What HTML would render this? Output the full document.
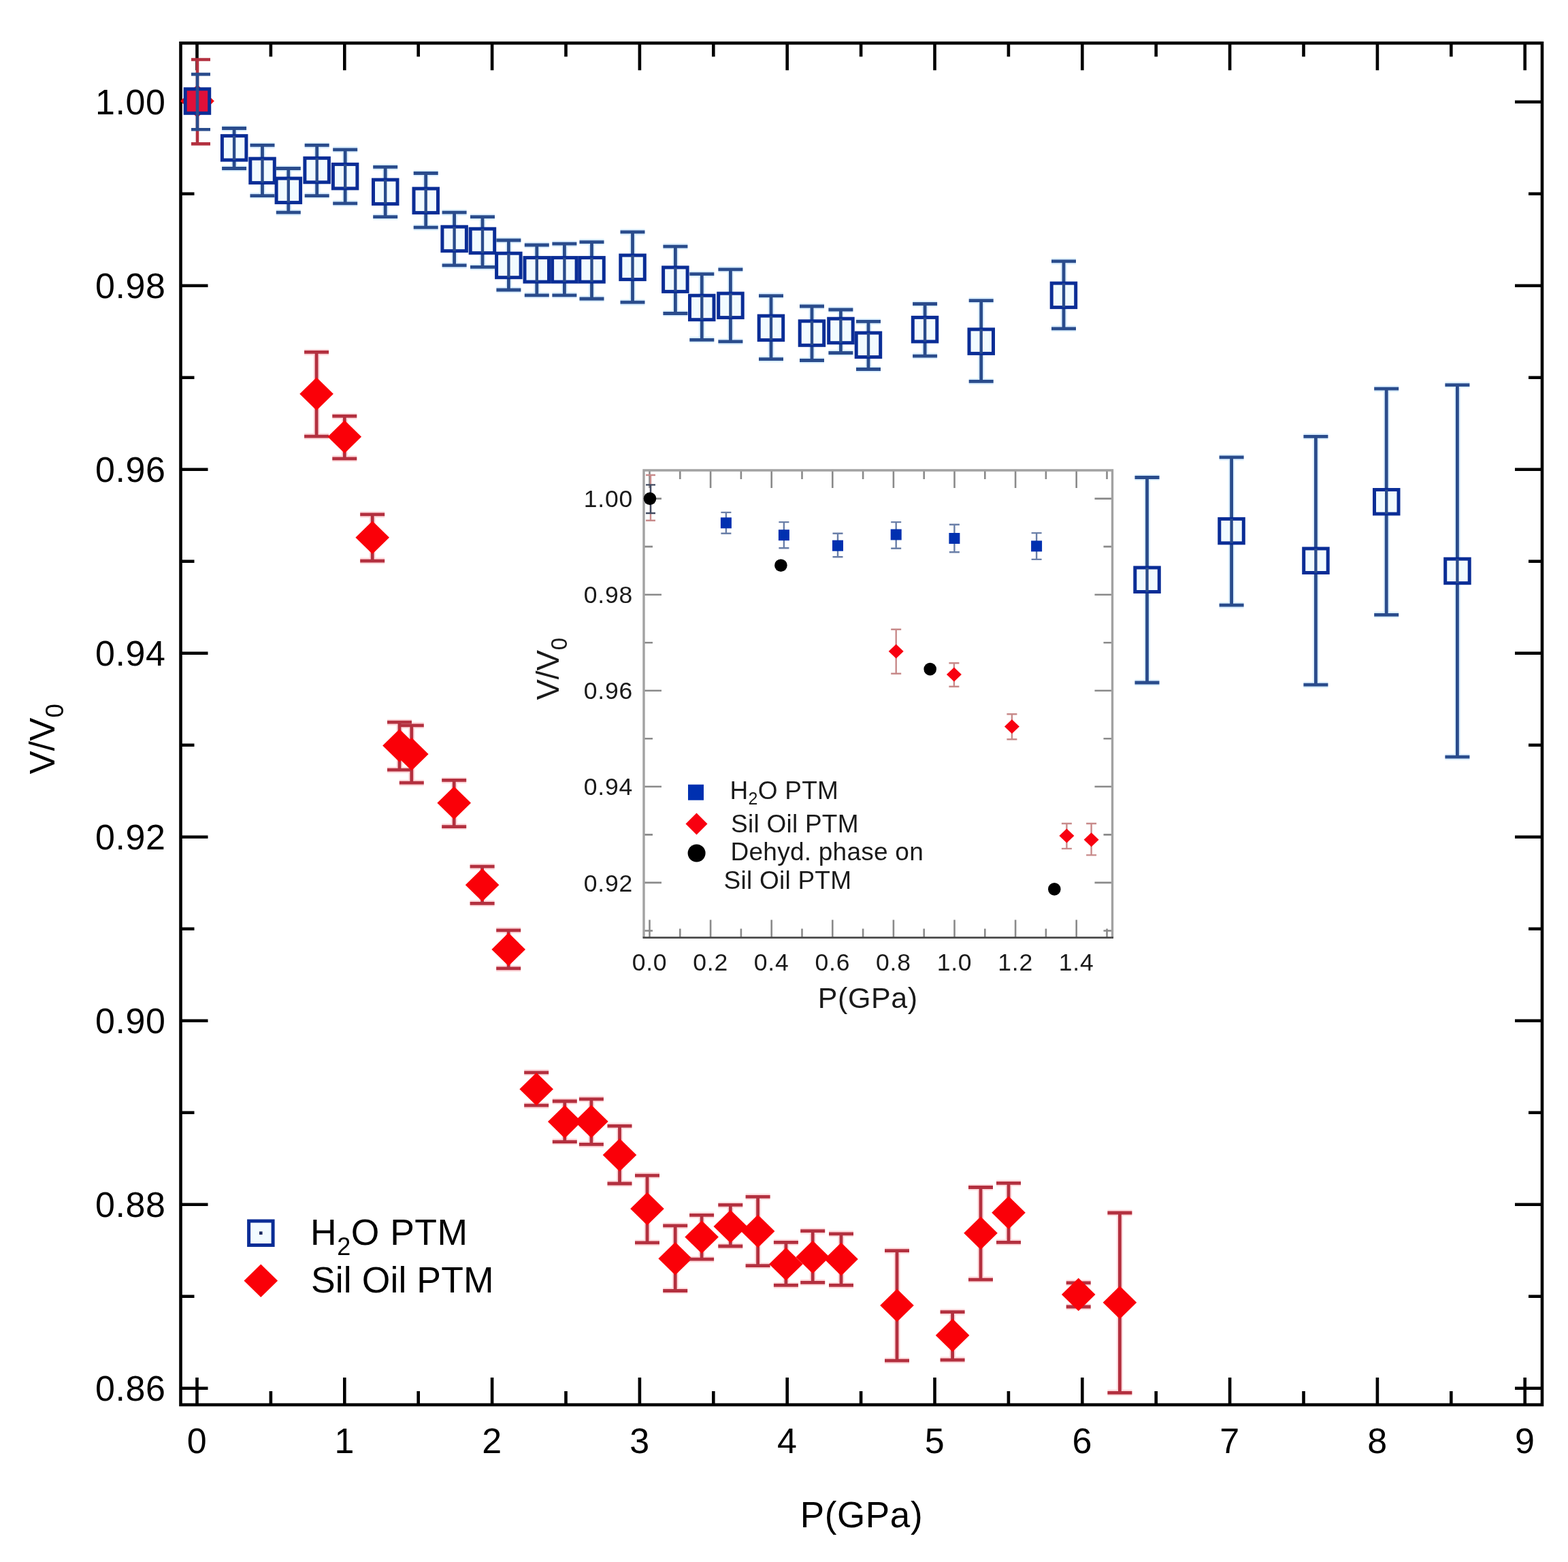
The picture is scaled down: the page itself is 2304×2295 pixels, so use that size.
<!DOCTYPE html>
<html><head><meta charset="utf-8"><title>V/V0 vs P</title><style>html,body{margin:0;padding:0;background:#fff;}svg{display:block;filter:blur(0.45px);}</style></head><body>
<svg width="2304" height="2295" viewBox="0 0 2304 2295">
<rect width="2304" height="2295" fill="#fff"/>
<path d="M289.5 2064V2024M289.5 63.3V103.3M506.3 2064V2024M506.3 63.3V103.3M723.1 2064V2024M723.1 63.3V103.3M939.9 2064V2024M939.9 63.3V103.3M1156.7 2064V2024M1156.7 63.3V103.3M1373.5 2064V2024M1373.5 63.3V103.3M1590.3 2064V2024M1590.3 63.3V103.3M1807.1 2064V2024M1807.1 63.3V103.3M2023.9 2064V2024M2023.9 63.3V103.3M2240.7 2064V2024M2240.7 63.3V103.3M397.9 2064V2044M397.9 63.3V83.3M614.7 2064V2044M614.7 63.3V83.3M831.5 2064V2044M831.5 63.3V83.3M1048.3 2064V2044M1048.3 63.3V83.3M1265.1 2064V2044M1265.1 63.3V83.3M1481.9 2064V2044M1481.9 63.3V83.3M1698.7 2064V2044M1698.7 63.3V83.3M1915.5 2064V2044M1915.5 63.3V83.3M2132.3 2064V2044M2132.3 63.3V83.3M265.5 149.7H305.5M2266 149.7H2226M265.5 284.7H285.5M2266 284.7H2246M265.5 419.7H305.5M2266 419.7H2226M265.5 554.7H285.5M2266 554.7H2246M265.5 689.7H305.5M2266 689.7H2226M265.5 824.7H285.5M2266 824.7H2246M265.5 959.7H305.5M2266 959.7H2226M265.5 1094.7H285.5M2266 1094.7H2246M265.5 1229.7H305.5M2266 1229.7H2226M265.5 1364.7H285.5M2266 1364.7H2246M265.5 1499.7H305.5M2266 1499.7H2226M265.5 1634.7H285.5M2266 1634.7H2246M265.5 1769.7H305.5M2266 1769.7H2226M265.5 1904.7H285.5M2266 1904.7H2246M265.5 2039.7H305.5M2266 2039.7H2226" stroke="#000" stroke-width="4.6" fill="none"/>
<rect x="265.5" y="63.3" width="2000.5" height="2000.7" stroke="#000" stroke-width="4.6" fill="none"/>
<g font-family="'Liberation Sans', Arial, sans-serif" font-size="52" fill="#000" letter-spacing="0.6">
<text x="243.5" y="168" text-anchor="end">1.00</text>
<text x="243.5" y="438" text-anchor="end">0.98</text>
<text x="243.5" y="708" text-anchor="end">0.96</text>
<text x="243.5" y="978" text-anchor="end">0.94</text>
<text x="243.5" y="1248" text-anchor="end">0.92</text>
<text x="243.5" y="1518" text-anchor="end">0.90</text>
<text x="243.5" y="1788" text-anchor="end">0.88</text>
<text x="243.5" y="2058" text-anchor="end">0.86</text>
<text x="289.5" y="2135" text-anchor="middle">0</text>
<text x="506.3" y="2135" text-anchor="middle">1</text>
<text x="723.1" y="2135" text-anchor="middle">2</text>
<text x="939.9" y="2135" text-anchor="middle">3</text>
<text x="1156.7" y="2135" text-anchor="middle">4</text>
<text x="1373.5" y="2135" text-anchor="middle">5</text>
<text x="1590.3" y="2135" text-anchor="middle">6</text>
<text x="1807.1" y="2135" text-anchor="middle">7</text>
<text x="2023.9" y="2135" text-anchor="middle">8</text>
<text x="2240.7" y="2135" text-anchor="middle">9</text>
</g>
<text x="1266" y="2244" text-anchor="middle" font-family="'Liberation Sans', Arial, sans-serif" font-size="53" letter-spacing="0.6">P(GPa)</text>
<text transform="translate(79.5 1137.5) rotate(-90)" font-family="'Liberation Sans', Arial, sans-serif" font-size="51.5">V/V<tspan font-size="37" dy="13.5">0</tspan></text>
<path d="M954.5 1377.6V1351.6M954.5 691V717M1044.1 1377.6V1351.6M1044.1 691V717M1133.7 1377.6V1351.6M1133.7 691V717M1223.3 1377.6V1351.6M1223.3 691V717M1312.9 1377.6V1351.6M1312.9 691V717M1402.5 1377.6V1351.6M1402.5 691V717M1492.1 1377.6V1351.6M1492.1 691V717M1581.7 1377.6V1351.6M1581.7 691V717M999.3 1377.6V1364.6M999.3 691V704M1088.9 1377.6V1364.6M1088.9 691V704M1178.5 1377.6V1364.6M1178.5 691V704M1268.1 1377.6V1364.6M1268.1 691V704M1357.7 1377.6V1364.6M1357.7 691V704M1447.3 1377.6V1364.6M1447.3 691V704M1536.9 1377.6V1364.6M1536.9 691V704M1626.5 1377.6V1364.6M1626.5 691V704M946 732.6H972M1634.5 732.6H1608.5M946 803.1H959M1634.5 803.1H1621.5M946 873.7H972M1634.5 873.7H1608.5M946 944.2H959M1634.5 944.2H1621.5M946 1014.8H972M1634.5 1014.8H1608.5M946 1085.3H959M1634.5 1085.3H1621.5M946 1155.8H972M1634.5 1155.8H1608.5M946 1226.4H959M1634.5 1226.4H1621.5M946 1296.9H972M1634.5 1296.9H1608.5M946 1367.5H959M1634.5 1367.5H1621.5" stroke="#8a8a8a" stroke-width="2.6" fill="none"/>
<path d="M946 1377.6V691H1634.5V1377.6" stroke="#a2a2a2" stroke-width="3.4" fill="none"/>
<path d="M944.5 1377.6H1636" stroke="#4a4a4a" stroke-width="2.6" fill="none"/>
<g font-family="'Liberation Sans', Arial, sans-serif" font-size="35.5" fill="#1a1a1a" letter-spacing="0.8">
<text x="930" y="745.2" text-anchor="end">1.00</text>
<text x="930" y="886.3" text-anchor="end">0.98</text>
<text x="930" y="1027.4" text-anchor="end">0.96</text>
<text x="930" y="1168.4" text-anchor="end">0.94</text>
<text x="930" y="1309.5" text-anchor="end">0.92</text>
<text x="954.5" y="1425.5" text-anchor="middle">0.0</text>
<text x="1044.1" y="1425.5" text-anchor="middle">0.2</text>
<text x="1133.7" y="1425.5" text-anchor="middle">0.4</text>
<text x="1223.3" y="1425.5" text-anchor="middle">0.6</text>
<text x="1312.9" y="1425.5" text-anchor="middle">0.8</text>
<text x="1402.5" y="1425.5" text-anchor="middle">1.0</text>
<text x="1492.1" y="1425.5" text-anchor="middle">1.2</text>
<text x="1581.7" y="1425.5" text-anchor="middle">1.4</text>
</g>
<text x="1275.3" y="1480.5" text-anchor="middle" font-family="'Liberation Sans', Arial, sans-serif" font-size="43" fill="#1a1a1a" letter-spacing="0.6">P(GPa)</text>
<text transform="translate(820.5 1028.5) rotate(-90)" font-family="'Liberation Sans', Arial, sans-serif" font-size="45.5" fill="#1a1a1a">V/V<tspan font-size="33" dy="12">0</tspan></text>
<path d="M956 698V764.8M949 698H963M949 764.8H963" stroke="#c88a8a" stroke-width="2.4" fill="none"/>
<path d="M956 712.4V754M949 712.4H963M949 754H963" stroke="#404a60" stroke-width="2.4" fill="none"/>
<path d="M1066.9 752.9V783.8M1059.4 752.9H1074.4M1059.4 783.8H1074.4" stroke="#6a7fa8" stroke-width="2.4" fill="none"/>
<rect x="1058.9" y="760.3" width="16" height="16" fill="#0030b0"/>
<path d="M1151.9 767.1V805.2M1144.4 767.1H1159.4M1144.4 805.2H1159.4" stroke="#6a7fa8" stroke-width="2.4" fill="none"/>
<rect x="1143.9" y="778.2" width="16" height="16" fill="#0030b0"/>
<path d="M1231 783.8V818.3M1223.5 783.8H1238.5M1223.5 818.3H1238.5" stroke="#6a7fa8" stroke-width="2.4" fill="none"/>
<rect x="1223" y="793.7" width="16" height="16" fill="#0030b0"/>
<path d="M1316.7 767.1V805.7M1309.2 767.1H1324.2M1309.2 805.7H1324.2" stroke="#6a7fa8" stroke-width="2.4" fill="none"/>
<rect x="1308.7" y="777.5" width="16" height="16" fill="#0030b0"/>
<path d="M1402.4 770.7V811.2M1394.9 770.7H1409.9M1394.9 811.2H1409.9" stroke="#6a7fa8" stroke-width="2.4" fill="none"/>
<rect x="1394.4" y="783" width="16" height="16" fill="#0030b0"/>
<path d="M1523.1 783.1V821.9M1515.6 783.1H1530.6M1515.6 821.9H1530.6" stroke="#6a7fa8" stroke-width="2.4" fill="none"/>
<rect x="1515.1" y="794.4" width="16" height="16" fill="#0030b0"/>
<path d="M1316.7 924.8V989.8M1309.2 924.8H1324.2M1309.2 989.8H1324.2" stroke="#c88a8a" stroke-width="2.4" fill="none"/>
<path d="M1305.7 957.1L1316.7 946.6L1327.7 957.1L1316.7 967.6Z" fill="#f80010"/>
<path d="M1401.9 974.3V1008.8M1394.4 974.3H1409.4M1394.4 1008.8H1409.4" stroke="#c88a8a" stroke-width="2.4" fill="none"/>
<path d="M1390.9 991L1401.9 980.5L1412.9 991L1401.9 1001.5Z" fill="#f80010"/>
<path d="M1486.9 1049.3V1086.2M1479.4 1049.3H1494.4M1479.4 1086.2H1494.4" stroke="#c88a8a" stroke-width="2.4" fill="none"/>
<path d="M1475.9 1067.6L1486.9 1057.1L1497.9 1067.6L1486.9 1078.1Z" fill="#f80010"/>
<path d="M1567.4 1210V1246.9M1559.9 1210H1574.9M1559.9 1246.9H1574.9" stroke="#c88a8a" stroke-width="2.4" fill="none"/>
<path d="M1556.4 1227.9L1567.4 1217.4L1578.4 1227.9L1567.4 1238.4Z" fill="#f80010"/>
<path d="M1603.6 1210V1256.4M1596.1 1210H1611.1M1596.1 1256.4H1611.1" stroke="#c88a8a" stroke-width="2.4" fill="none"/>
<path d="M1592.6 1233.8L1603.6 1223.3L1614.6 1233.8L1603.6 1244.3Z" fill="#f80010"/>
<circle cx="955" cy="732.6" r="9.3" fill="#000"/>
<circle cx="1147.4" cy="830.7" r="9.3" fill="#000"/>
<circle cx="1366.7" cy="983.1" r="9.3" fill="#000"/>
<circle cx="1549.3" cy="1306.4" r="9.3" fill="#000"/>
<rect x="1011" y="1152.7" width="23" height="23" fill="#0030b0"/>
<path d="M1007.5 1210.6L1023.5 1194.6L1039.5 1210.6L1023.5 1226.6Z" fill="#f80010"/>
<circle cx="1023.6" cy="1253.5" r="13" fill="#000"/>
<g font-family="'Liberation Sans', Arial, sans-serif" font-size="37" fill="#1a1a1a" letter-spacing="0.25">
<text x="1072.5" y="1174.3">H<tspan font-size="25" dy="8">2</tspan><tspan dy="-8">O PTM</tspan></text>
<text x="1074" y="1223">Sil Oil PTM</text>
<text x="1073.5" y="1264.3">Dehyd. phase on</text>
<text x="1063.5" y="1306.4">Sil Oil PTM</text>
</g>
<g><path d="M344.1 188.5V247.5M326.1 188.5H362.1M326.1 247.5H362.1" stroke="#dcefff" stroke-width="9" fill="none"/><path d="M385.5 213.4V287.6M367.5 213.4H403.5M367.5 287.6H403.5" stroke="#dcefff" stroke-width="9" fill="none"/><path d="M423.8 247.5V312.2M405.8 247.5H441.8M405.8 312.2H441.8" stroke="#dcefff" stroke-width="9" fill="none"/><path d="M465.7 213.4V287.6M447.7 213.4H483.7M447.7 287.6H483.7" stroke="#dcefff" stroke-width="9" fill="none"/><path d="M507.2 219.8V298.8M489.2 219.8H525.2M489.2 298.8H525.2" stroke="#dcefff" stroke-width="9" fill="none"/><path d="M566.2 245.4V318.7M548.2 245.4H584.2M548.2 318.7H584.2" stroke="#dcefff" stroke-width="9" fill="none"/><path d="M625.7 254.5V334.2M607.7 254.5H643.7M607.7 334.2H643.7" stroke="#dcefff" stroke-width="9" fill="none"/><path d="M667.6 312.2V389.9M649.6 312.2H685.6M649.6 389.9H685.6" stroke="#dcefff" stroke-width="9" fill="none"/><path d="M709 318.7V392.4M691 318.7H727M691 392.4H727" stroke="#dcefff" stroke-width="9" fill="none"/><path d="M747.4 353V426M729.4 353H765.4M729.4 426H765.4" stroke="#dcefff" stroke-width="9" fill="none"/><path d="M788.8 360V433.8M770.8 360H806.8M770.8 433.8H806.8" stroke="#dcefff" stroke-width="9" fill="none"/><path d="M829.4 358.2V433.8M811.4 358.2H847.4M811.4 433.8H847.4" stroke="#dcefff" stroke-width="9" fill="none"/><path d="M869.5 355.6V439M851.5 355.6H887.5M851.5 439H887.5" stroke="#dcefff" stroke-width="9" fill="none"/><path d="M929.5 340.9V444.2M911.5 340.9H947.5M911.5 444.2H947.5" stroke="#dcefff" stroke-width="9" fill="none"/><path d="M992.4 362.1V460.5M974.4 362.1H1010.4M974.4 460.5H1010.4" stroke="#dcefff" stroke-width="9" fill="none"/><path d="M1031.3 402.7V499.3M1013.3 402.7H1049.3M1013.3 499.3H1049.3" stroke="#dcefff" stroke-width="9" fill="none"/><path d="M1073.4 395.8V501.9M1055.4 395.8H1091.4M1055.4 501.9H1091.4" stroke="#dcefff" stroke-width="9" fill="none"/><path d="M1133 434.6V527.7M1115 434.6H1151M1115 527.7H1151" stroke="#dcefff" stroke-width="9" fill="none"/><path d="M1193 450V529.5M1175 450H1211M1175 529.5H1211" stroke="#dcefff" stroke-width="9" fill="none"/><path d="M1235.4 455V518.5M1217.4 455H1253.4M1217.4 518.5H1253.4" stroke="#dcefff" stroke-width="9" fill="none"/><path d="M1276 472.4V542.5M1258 472.4H1294M1258 542.5H1294" stroke="#dcefff" stroke-width="9" fill="none"/><path d="M1359.1 446.5V523.1M1341.1 446.5H1377.1M1341.1 523.1H1377.1" stroke="#dcefff" stroke-width="9" fill="none"/><path d="M1441.7 441.6V560.4M1423.7 441.6H1459.7M1423.7 560.4H1459.7" stroke="#dcefff" stroke-width="9" fill="none"/><path d="M1563 383.9V482.8M1545 383.9H1581M1545 482.8H1581" stroke="#dcefff" stroke-width="9" fill="none"/><path d="M1685.5 701.5V1003M1667.5 701.5H1703.5M1667.5 1003H1703.5" stroke="#dcefff" stroke-width="9" fill="none"/><path d="M1809.6 671.9V889.2M1791.6 671.9H1827.6M1791.6 889.2H1827.6" stroke="#dcefff" stroke-width="9" fill="none"/><path d="M1933.4 641.3V1006.2M1915.4 641.3H1951.4M1915.4 1006.2H1951.4" stroke="#dcefff" stroke-width="9" fill="none"/><path d="M2037.2 571.2V903.3M2019.2 571.2H2055.2M2019.2 903.3H2055.2" stroke="#dcefff" stroke-width="9" fill="none"/><path d="M2141.4 565.6V1112.2M2123.4 565.6H2159.4M2123.4 1112.2H2159.4" stroke="#dcefff" stroke-width="9" fill="none"/><path d="M465.1 517.4V641.1M447.1 517.4H483.1M447.1 641.1H483.1" stroke="#ffd9dc" stroke-width="9" fill="none"/><path d="M506.3 611.4V673.8M488.3 611.4H524.3M488.3 673.8H524.3" stroke="#ffd9dc" stroke-width="9" fill="none"/><path d="M547.2 755.9V824.1M529.2 755.9H565.2M529.2 824.1H565.2" stroke="#ffd9dc" stroke-width="9" fill="none"/><path d="M587 1061.2V1131.2M569 1061.2H605M569 1131.2H605" stroke="#ffd9dc" stroke-width="9" fill="none"/><path d="M604.8 1065.8V1150.2M586.8 1065.8H622.8M586.8 1150.2H622.8" stroke="#ffd9dc" stroke-width="9" fill="none"/><path d="M667.2 1146.4V1214.6M649.2 1146.4H685.2M649.2 1214.6H685.2" stroke="#ffd9dc" stroke-width="9" fill="none"/><path d="M708.6 1273.2V1327.3M690.6 1273.2H726.6M690.6 1327.3H726.6" stroke="#ffd9dc" stroke-width="9" fill="none"/><path d="M747.2 1366.8V1422.9M729.2 1366.8H765.2M729.2 1422.9H765.2" stroke="#ffd9dc" stroke-width="9" fill="none"/><path d="M788.2 1575.8V1624.2M770.2 1575.8H806.2M770.2 1624.2H806.2" stroke="#ffd9dc" stroke-width="9" fill="none"/><path d="M829.8 1618V1677.6M811.8 1618H847.8M811.8 1677.6H847.8" stroke="#ffd9dc" stroke-width="9" fill="none"/><path d="M868.9 1614.8V1681.4M850.9 1614.8H886.9M850.9 1681.4H886.9" stroke="#ffd9dc" stroke-width="9" fill="none"/><path d="M910.5 1654.3V1739M892.5 1654.3H928.5M892.5 1739H928.5" stroke="#ffd9dc" stroke-width="9" fill="none"/><path d="M951 1727.1V1825.9M933 1727.1H969M933 1825.9H969" stroke="#ffd9dc" stroke-width="9" fill="none"/><path d="M992.2 1800.9V1896.5M974.2 1800.9H1010.2M974.2 1896.5H1010.2" stroke="#ffd9dc" stroke-width="9" fill="none"/><path d="M1031.1 1785.3V1850.2M1013.1 1785.3H1049.1M1013.1 1850.2H1049.1" stroke="#ffd9dc" stroke-width="9" fill="none"/><path d="M1073.3 1770.4V1831M1055.3 1770.4H1091.3M1055.3 1831H1091.3" stroke="#ffd9dc" stroke-width="9" fill="none"/><path d="M1113.6 1758.3V1859.7M1095.6 1758.3H1131.6M1095.6 1859.7H1131.6" stroke="#ffd9dc" stroke-width="9" fill="none"/><path d="M1154.9 1825.3V1888.4M1136.9 1825.3H1172.9M1136.9 1888.4H1172.9" stroke="#ffd9dc" stroke-width="9" fill="none"/><path d="M1194.2 1808.7V1884.3M1176.2 1808.7H1212.2M1176.2 1884.3H1212.2" stroke="#ffd9dc" stroke-width="9" fill="none"/><path d="M1236 1812.8V1888.4M1218 1812.8H1254M1218 1888.4H1254" stroke="#ffd9dc" stroke-width="9" fill="none"/><path d="M1318 1837.7V1999.2M1300 1837.7H1336M1300 1999.2H1336" stroke="#ffd9dc" stroke-width="9" fill="none"/><path d="M1399.6 1927.7V1998.1M1381.6 1927.7H1417.6M1381.6 1998.1H1417.6" stroke="#ffd9dc" stroke-width="9" fill="none"/><path d="M1441 1744.5V1880.1M1423 1744.5H1459M1423 1880.1H1459" stroke="#ffd9dc" stroke-width="9" fill="none"/><path d="M1482 1738.3V1825.3M1464 1738.3H1500M1464 1825.3H1500" stroke="#ffd9dc" stroke-width="9" fill="none"/><path d="M1584.7 1884.9V1920M1566.7 1884.9H1602.7M1566.7 1920H1602.7" stroke="#ffd9dc" stroke-width="9" fill="none"/><path d="M1645.4 1782V2046.3M1627.4 1782H1663.4M1627.4 2046.3H1663.4" stroke="#ffd9dc" stroke-width="9" fill="none"/></g>
<path d="M290 87.5V211.4M281 87.5H309M281 211.4H309" stroke="#b3303f" stroke-width="4.6" fill="none"/>
<path d="M265.2 148.6L290 124.3L314.8 148.6L290 172.9Z" fill="#fa0008"/>
<rect x="272.2" y="130.8" width="35.5" height="35.5" stroke="#0a2d96" stroke-width="5.0" fill="#e0103a"/>
<path d="M290 109.1V190.2M281 109.1H309M281 190.2H309" stroke="#2a4c8c" stroke-width="4.6" fill="none"/>
<path d="M344.1 188.5V247.5M326.1 188.5H362.1M326.1 247.5H362.1" stroke="#2a4c8c" stroke-width="4.8" fill="none"/>
<rect x="326.4" y="199.6" width="35.5" height="35.5" stroke="#0a2d96" stroke-width="5.0" fill="#f2fbff"/>
<path d="M344.1 199.6V235.1" stroke="#2a4c8c" stroke-width="4.4"/>
<path d="M385.5 213.4V287.6M367.5 213.4H403.5M367.5 287.6H403.5" stroke="#2a4c8c" stroke-width="4.8" fill="none"/>
<rect x="367.8" y="233.1" width="35.5" height="35.5" stroke="#0a2d96" stroke-width="5.0" fill="#f2fbff"/>
<path d="M385.5 233.1V268.6" stroke="#2a4c8c" stroke-width="4.4"/>
<path d="M423.8 247.5V312.2M405.8 247.5H441.8M405.8 312.2H441.8" stroke="#2a4c8c" stroke-width="4.8" fill="none"/>
<rect x="406.1" y="262.1" width="35.5" height="35.5" stroke="#0a2d96" stroke-width="5.0" fill="#f2fbff"/>
<path d="M423.8 262.1V297.6" stroke="#2a4c8c" stroke-width="4.4"/>
<path d="M465.7 213.4V287.6M447.7 213.4H483.7M447.7 287.6H483.7" stroke="#2a4c8c" stroke-width="4.8" fill="none"/>
<rect x="447.9" y="232.3" width="35.5" height="35.5" stroke="#0a2d96" stroke-width="5.0" fill="#f2fbff"/>
<path d="M465.7 232.3V267.9" stroke="#2a4c8c" stroke-width="4.4"/>
<path d="M507.2 219.8V298.8M489.2 219.8H525.2M489.2 298.8H525.2" stroke="#2a4c8c" stroke-width="4.8" fill="none"/>
<rect x="489.4" y="241.4" width="35.5" height="35.5" stroke="#0a2d96" stroke-width="5.0" fill="#f2fbff"/>
<path d="M507.2 241.4V276.9" stroke="#2a4c8c" stroke-width="4.4"/>
<path d="M566.2 245.4V318.7M548.2 245.4H584.2M548.2 318.7H584.2" stroke="#2a4c8c" stroke-width="4.8" fill="none"/>
<rect x="548.5" y="264.1" width="35.5" height="35.5" stroke="#0a2d96" stroke-width="5.0" fill="#f2fbff"/>
<path d="M566.2 264.1V299.6" stroke="#2a4c8c" stroke-width="4.4"/>
<path d="M625.7 254.5V334.2M607.7 254.5H643.7M607.7 334.2H643.7" stroke="#2a4c8c" stroke-width="4.8" fill="none"/>
<rect x="608" y="277.1" width="35.5" height="35.5" stroke="#0a2d96" stroke-width="5.0" fill="#f2fbff"/>
<path d="M625.7 277.1V312.6" stroke="#2a4c8c" stroke-width="4.4"/>
<path d="M667.6 312.2V389.9M649.6 312.2H685.6M649.6 389.9H685.6" stroke="#2a4c8c" stroke-width="4.8" fill="none"/>
<rect x="649.9" y="333.2" width="35.5" height="35.5" stroke="#0a2d96" stroke-width="5.0" fill="#f2fbff"/>
<path d="M667.6 333.2V368.8" stroke="#2a4c8c" stroke-width="4.4"/>
<path d="M709 318.7V392.4M691 318.7H727M691 392.4H727" stroke="#2a4c8c" stroke-width="4.8" fill="none"/>
<rect x="691.2" y="336.2" width="35.5" height="35.5" stroke="#0a2d96" stroke-width="5.0" fill="#f2fbff"/>
<path d="M709 336.2V371.8" stroke="#2a4c8c" stroke-width="4.4"/>
<path d="M747.4 353V426M729.4 353H765.4M729.4 426H765.4" stroke="#2a4c8c" stroke-width="4.8" fill="none"/>
<rect x="729.6" y="372.2" width="35.5" height="35.5" stroke="#0a2d96" stroke-width="5.0" fill="#f2fbff"/>
<path d="M747.4 372.2V407.8" stroke="#2a4c8c" stroke-width="4.4"/>
<path d="M788.8 360V433.8M770.8 360H806.8M770.8 433.8H806.8" stroke="#2a4c8c" stroke-width="4.8" fill="none"/>
<rect x="771" y="378.6" width="35.5" height="35.5" stroke="#0a2d96" stroke-width="5.0" fill="#f2fbff"/>
<path d="M788.8 378.6V414.1" stroke="#2a4c8c" stroke-width="4.4"/>
<path d="M829.4 358.2V433.8M811.4 358.2H847.4M811.4 433.8H847.4" stroke="#2a4c8c" stroke-width="4.8" fill="none"/>
<rect x="811.6" y="378.6" width="35.5" height="35.5" stroke="#0a2d96" stroke-width="5.0" fill="#f2fbff"/>
<path d="M829.4 378.6V414.1" stroke="#2a4c8c" stroke-width="4.4"/>
<path d="M869.5 355.6V439M851.5 355.6H887.5M851.5 439H887.5" stroke="#2a4c8c" stroke-width="4.8" fill="none"/>
<rect x="851.8" y="378.6" width="35.5" height="35.5" stroke="#0a2d96" stroke-width="5.0" fill="#f2fbff"/>
<path d="M869.5 378.6V414.1" stroke="#2a4c8c" stroke-width="4.4"/>
<path d="M929.5 340.9V444.2M911.5 340.9H947.5M911.5 444.2H947.5" stroke="#2a4c8c" stroke-width="4.8" fill="none"/>
<rect x="911.8" y="375.1" width="35.5" height="35.5" stroke="#0a2d96" stroke-width="5.0" fill="#f2fbff"/>
<path d="M929.5 375.1V410.6" stroke="#2a4c8c" stroke-width="4.4"/>
<path d="M992.4 362.1V460.5M974.4 362.1H1010.4M974.4 460.5H1010.4" stroke="#2a4c8c" stroke-width="4.8" fill="none"/>
<rect x="974.6" y="392.9" width="35.5" height="35.5" stroke="#0a2d96" stroke-width="5.0" fill="#f2fbff"/>
<path d="M992.4 392.9V428.4" stroke="#2a4c8c" stroke-width="4.4"/>
<path d="M1031.3 402.7V499.3M1013.3 402.7H1049.3M1013.3 499.3H1049.3" stroke="#2a4c8c" stroke-width="4.8" fill="none"/>
<rect x="1013.5" y="434.2" width="35.5" height="35.5" stroke="#0a2d96" stroke-width="5.0" fill="#f2fbff"/>
<path d="M1031.3 434.2V469.8" stroke="#2a4c8c" stroke-width="4.4"/>
<path d="M1073.4 395.8V501.9M1055.4 395.8H1091.4M1055.4 501.9H1091.4" stroke="#2a4c8c" stroke-width="4.8" fill="none"/>
<rect x="1055.7" y="431.1" width="35.5" height="35.5" stroke="#0a2d96" stroke-width="5.0" fill="#f2fbff"/>
<path d="M1073.4 431.1V466.6" stroke="#2a4c8c" stroke-width="4.4"/>
<path d="M1133 434.6V527.7M1115 434.6H1151M1115 527.7H1151" stroke="#2a4c8c" stroke-width="4.8" fill="none"/>
<rect x="1115.2" y="464.1" width="35.5" height="35.5" stroke="#0a2d96" stroke-width="5.0" fill="#f2fbff"/>
<path d="M1133 464.1V499.6" stroke="#2a4c8c" stroke-width="4.4"/>
<path d="M1193 450V529.5M1175 450H1211M1175 529.5H1211" stroke="#2a4c8c" stroke-width="4.8" fill="none"/>
<rect x="1175.2" y="471.8" width="35.5" height="35.5" stroke="#0a2d96" stroke-width="5.0" fill="#f2fbff"/>
<path d="M1193 471.8V507.2" stroke="#2a4c8c" stroke-width="4.4"/>
<path d="M1235.4 455V518.5M1217.4 455H1253.4M1217.4 518.5H1253.4" stroke="#2a4c8c" stroke-width="4.8" fill="none"/>
<rect x="1217.7" y="468.2" width="35.5" height="35.5" stroke="#0a2d96" stroke-width="5.0" fill="#f2fbff"/>
<path d="M1235.4 468.2V503.8" stroke="#2a4c8c" stroke-width="4.4"/>
<path d="M1276 472.4V542.5M1258 472.4H1294M1258 542.5H1294" stroke="#2a4c8c" stroke-width="4.8" fill="none"/>
<rect x="1258.2" y="489.1" width="35.5" height="35.5" stroke="#0a2d96" stroke-width="5.0" fill="#f2fbff"/>
<path d="M1276 489.1V524.5" stroke="#2a4c8c" stroke-width="4.4"/>
<path d="M1359.1 446.5V523.1M1341.1 446.5H1377.1M1341.1 523.1H1377.1" stroke="#2a4c8c" stroke-width="4.8" fill="none"/>
<rect x="1341.3" y="466.4" width="35.5" height="35.5" stroke="#0a2d96" stroke-width="5.0" fill="#f2fbff"/>
<path d="M1359.1 466.4V501.9" stroke="#2a4c8c" stroke-width="4.4"/>
<path d="M1441.7 441.6V560.4M1423.7 441.6H1459.7M1423.7 560.4H1459.7" stroke="#2a4c8c" stroke-width="4.8" fill="none"/>
<rect x="1424" y="483.9" width="35.5" height="35.5" stroke="#0a2d96" stroke-width="5.0" fill="#f2fbff"/>
<path d="M1441.7 483.9V519.4" stroke="#2a4c8c" stroke-width="4.4"/>
<path d="M1563 383.9V482.8M1545 383.9H1581M1545 482.8H1581" stroke="#2a4c8c" stroke-width="4.8" fill="none"/>
<rect x="1545.2" y="416.1" width="35.5" height="35.5" stroke="#0a2d96" stroke-width="5.0" fill="#f2fbff"/>
<path d="M1563 416.1V451.6" stroke="#2a4c8c" stroke-width="4.4"/>
<path d="M1685.5 701.5V1003M1667.5 701.5H1703.5M1667.5 1003H1703.5" stroke="#2a4c8c" stroke-width="4.8" fill="none"/>
<rect x="1667.8" y="834" width="35.5" height="35.5" stroke="#0a2d96" stroke-width="5.0" fill="#f2fbff"/>
<path d="M1685.5 834V869.5" stroke="#2a4c8c" stroke-width="4.4"/>
<path d="M1809.6 671.9V889.2M1791.6 671.9H1827.6M1791.6 889.2H1827.6" stroke="#2a4c8c" stroke-width="4.8" fill="none"/>
<rect x="1791.8" y="762.4" width="35.5" height="35.5" stroke="#0a2d96" stroke-width="5.0" fill="#f2fbff"/>
<path d="M1809.6 762.4V797.9" stroke="#2a4c8c" stroke-width="4.4"/>
<path d="M1933.4 641.3V1006.2M1915.4 641.3H1951.4M1915.4 1006.2H1951.4" stroke="#2a4c8c" stroke-width="4.8" fill="none"/>
<rect x="1915.7" y="806" width="35.5" height="35.5" stroke="#0a2d96" stroke-width="5.0" fill="#f2fbff"/>
<path d="M1933.4 806V841.5" stroke="#2a4c8c" stroke-width="4.4"/>
<path d="M2037.2 571.2V903.3M2019.2 571.2H2055.2M2019.2 903.3H2055.2" stroke="#2a4c8c" stroke-width="4.8" fill="none"/>
<rect x="2019.5" y="719.5" width="35.5" height="35.5" stroke="#0a2d96" stroke-width="5.0" fill="#f2fbff"/>
<path d="M2037.2 719.5V755" stroke="#2a4c8c" stroke-width="4.4"/>
<path d="M2141.4 565.6V1112.2M2123.4 565.6H2159.4M2123.4 1112.2H2159.4" stroke="#2a4c8c" stroke-width="4.8" fill="none"/>
<rect x="2123.7" y="821.2" width="35.5" height="35.5" stroke="#0a2d96" stroke-width="5.0" fill="#f2fbff"/>
<path d="M2141.4 821.2V856.8" stroke="#2a4c8c" stroke-width="4.4"/>
<path d="M465.1 517.4V641.1M447.1 517.4H483.1M447.1 641.1H483.1" stroke="#b3303f" stroke-width="4.8" fill="none"/>
<path d="M440.3 578.8L465.1 554.5L489.9 578.8L465.1 603.1Z" fill="#fa0008"/>
<path d="M506.3 611.4V673.8M488.3 611.4H524.3M488.3 673.8H524.3" stroke="#b3303f" stroke-width="4.8" fill="none"/>
<path d="M481.5 641.7L506.3 617.4L531.1 641.7L506.3 666Z" fill="#fa0008"/>
<path d="M547.2 755.9V824.1M529.2 755.9H565.2M529.2 824.1H565.2" stroke="#b3303f" stroke-width="4.8" fill="none"/>
<path d="M522.4 789.8L547.2 765.5L572 789.8L547.2 814.1Z" fill="#fa0008"/>
<path d="M587 1061.2V1131.2M569 1061.2H605M569 1131.2H605" stroke="#b3303f" stroke-width="4.8" fill="none"/>
<path d="M562.2 1095.5L587 1071.2L611.8 1095.5L587 1119.8Z" fill="#fa0008"/>
<path d="M604.8 1065.8V1150.2M586.8 1065.8H622.8M586.8 1150.2H622.8" stroke="#b3303f" stroke-width="4.8" fill="none"/>
<path d="M580 1108L604.8 1083.7L629.6 1108L604.8 1132.3Z" fill="#fa0008"/>
<path d="M667.2 1146.4V1214.6M649.2 1146.4H685.2M649.2 1214.6H685.2" stroke="#b3303f" stroke-width="4.8" fill="none"/>
<path d="M642.4 1179.7L667.2 1155.4L692 1179.7L667.2 1204Z" fill="#fa0008"/>
<path d="M708.6 1273.2V1327.3M690.6 1273.2H726.6M690.6 1327.3H726.6" stroke="#b3303f" stroke-width="4.8" fill="none"/>
<path d="M683.8 1300.3L708.6 1276L733.4 1300.3L708.6 1324.6Z" fill="#fa0008"/>
<path d="M747.2 1366.8V1422.9M729.2 1366.8H765.2M729.2 1422.9H765.2" stroke="#b3303f" stroke-width="4.8" fill="none"/>
<path d="M722.4 1394.9L747.2 1370.6L772 1394.9L747.2 1419.2Z" fill="#fa0008"/>
<path d="M788.2 1575.8V1624.2M770.2 1575.8H806.2M770.2 1624.2H806.2" stroke="#b3303f" stroke-width="4.8" fill="none"/>
<path d="M763.4 1600.3L788.2 1576L813 1600.3L788.2 1624.6Z" fill="#fa0008"/>
<path d="M829.8 1618V1677.6M811.8 1618H847.8M811.8 1677.6H847.8" stroke="#b3303f" stroke-width="4.8" fill="none"/>
<path d="M805 1648.1L829.8 1623.8L854.6 1648.1L829.8 1672.4Z" fill="#fa0008"/>
<path d="M868.9 1614.8V1681.4M850.9 1614.8H886.9M850.9 1681.4H886.9" stroke="#b3303f" stroke-width="4.8" fill="none"/>
<path d="M844.1 1647.7L868.9 1623.4L893.7 1647.7L868.9 1672Z" fill="#fa0008"/>
<path d="M910.5 1654.3V1739M892.5 1654.3H928.5M892.5 1739H928.5" stroke="#b3303f" stroke-width="4.8" fill="none"/>
<path d="M885.7 1697L910.5 1672.7L935.3 1697L910.5 1721.3Z" fill="#fa0008"/>
<path d="M951 1727.1V1825.9M933 1727.1H969M933 1825.9H969" stroke="#b3303f" stroke-width="4.8" fill="none"/>
<path d="M926.2 1776L951 1751.7L975.8 1776L951 1800.3Z" fill="#fa0008"/>
<path d="M992.2 1800.9V1896.5M974.2 1800.9H1010.2M974.2 1896.5H1010.2" stroke="#b3303f" stroke-width="4.8" fill="none"/>
<path d="M967.4 1849.2L992.2 1824.9L1017 1849.2L992.2 1873.5Z" fill="#fa0008"/>
<path d="M1031.1 1785.3V1850.2M1013.1 1785.3H1049.1M1013.1 1850.2H1049.1" stroke="#b3303f" stroke-width="4.8" fill="none"/>
<path d="M1006.3 1817.5L1031.1 1793.2L1055.9 1817.5L1031.1 1841.8Z" fill="#fa0008"/>
<path d="M1073.3 1770.4V1831M1055.3 1770.4H1091.3M1055.3 1831H1091.3" stroke="#b3303f" stroke-width="4.8" fill="none"/>
<path d="M1048.5 1802L1073.3 1777.7L1098.1 1802L1073.3 1826.3Z" fill="#fa0008"/>
<path d="M1113.6 1758.3V1859.7M1095.6 1758.3H1131.6M1095.6 1859.7H1131.6" stroke="#b3303f" stroke-width="4.8" fill="none"/>
<path d="M1088.8 1809L1113.6 1784.7L1138.4 1809L1113.6 1833.3Z" fill="#fa0008"/>
<path d="M1154.9 1825.3V1888.4M1136.9 1825.3H1172.9M1136.9 1888.4H1172.9" stroke="#b3303f" stroke-width="4.8" fill="none"/>
<path d="M1130.1 1857.3L1154.9 1833L1179.7 1857.3L1154.9 1881.6Z" fill="#fa0008"/>
<path d="M1194.2 1808.7V1884.3M1176.2 1808.7H1212.2M1176.2 1884.3H1212.2" stroke="#b3303f" stroke-width="4.8" fill="none"/>
<path d="M1169.4 1847L1194.2 1822.7L1219 1847L1194.2 1871.3Z" fill="#fa0008"/>
<path d="M1236 1812.8V1888.4M1218 1812.8H1254M1218 1888.4H1254" stroke="#b3303f" stroke-width="4.8" fill="none"/>
<path d="M1211.2 1850.1L1236 1825.8L1260.8 1850.1L1236 1874.4Z" fill="#fa0008"/>
<path d="M1318 1837.7V1999.2M1300 1837.7H1336M1300 1999.2H1336" stroke="#b3303f" stroke-width="4.8" fill="none"/>
<path d="M1293.2 1918L1318 1893.7L1342.8 1918L1318 1942.3Z" fill="#fa0008"/>
<path d="M1399.6 1927.7V1998.1M1381.6 1927.7H1417.6M1381.6 1998.1H1417.6" stroke="#b3303f" stroke-width="4.8" fill="none"/>
<path d="M1374.8 1961.9L1399.6 1937.6L1424.4 1961.9L1399.6 1986.2Z" fill="#fa0008"/>
<path d="M1441 1744.5V1880.1M1423 1744.5H1459M1423 1880.1H1459" stroke="#b3303f" stroke-width="4.8" fill="none"/>
<path d="M1416.2 1811.8L1441 1787.5L1465.8 1811.8L1441 1836.1Z" fill="#fa0008"/>
<path d="M1482 1738.3V1825.3M1464 1738.3H1500M1464 1825.3H1500" stroke="#b3303f" stroke-width="4.8" fill="none"/>
<path d="M1457.2 1781.8L1482 1757.5L1506.8 1781.8L1482 1806.1Z" fill="#fa0008"/>
<path d="M1584.7 1884.9V1920M1566.7 1884.9H1602.7M1566.7 1920H1602.7" stroke="#b3303f" stroke-width="4.8" fill="none"/>
<path d="M1559.9 1902L1584.7 1877.7L1609.5 1902L1584.7 1926.3Z" fill="#fa0008"/>
<path d="M1645.4 1782V2046.3M1627.4 1782H1663.4M1627.4 2046.3H1663.4" stroke="#b3303f" stroke-width="4.8" fill="none"/>
<path d="M1620.6 1913.8L1645.4 1889.5L1670.2 1913.8L1645.4 1938.1Z" fill="#fa0008"/>
<rect x="365.6" y="1794" width="35.5" height="35.5" stroke="#0a2d96" stroke-width="5.0" fill="#f2fbff"/>
<rect x="381" y="1809.4" width="4.6" height="4.6" fill="#1a2a60"/>
<path d="M358.5 1881.8L383.3 1857.5L408.1 1881.8L383.3 1906.1Z" fill="#fa0008"/>
<g font-family="'Liberation Sans', Arial, sans-serif" font-size="53.5" fill="#000" letter-spacing="0.5">
<text x="456" y="1828.7">H<tspan font-size="36" dy="15">2</tspan><tspan dy="-15">O PTM</tspan></text>
<text x="457" y="1898.7" letter-spacing="0.1">Sil Oil PTM</text>
</g>
</svg>
</body></html>
